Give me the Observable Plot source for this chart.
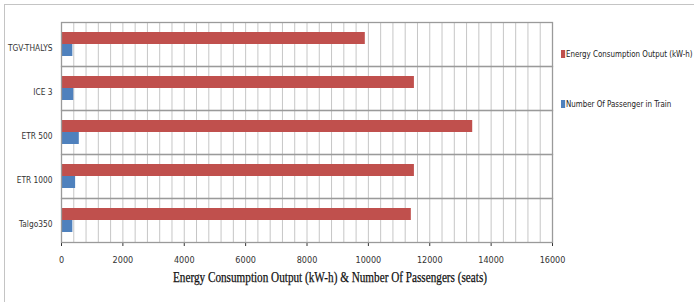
<!DOCTYPE html>
<html><head><meta charset="utf-8">
<script src="https://cdn.jsdelivr.net/npm/d3@7"></script>
<script src="https://cdn.jsdelivr.net/npm/@observablehq/plot@0.6"></script>
<style>
body{margin:0;background:#fff}
#wrap{position:relative;width:694px;height:302px;overflow:hidden;background:#fff}
#frame{position:absolute;left:4px;top:4px;width:720px;height:320px;border:1px solid #c4c4c4;box-sizing:border-box}
#chart{position:absolute;left:0;top:0}
#title{position:absolute;left:0;top:270px;width:660px;text-align:center;font-family:"Liberation Serif","Times New Roman",serif;font-size:14px;color:#111;white-space:nowrap;transform:scaleX(0.8);transform-origin:330px 0;font-weight:normal;-webkit-text-stroke:0.25px #111}
.leg{position:absolute;left:561px;font-family:"DejaVu Sans Condensed","Roboto",sans-serif;font-size:9.5px;color:#222;white-space:nowrap;transform:scaleX(0.83);transform-origin:0 0}
.leg i{display:inline-block;width:5px;height:8px;margin-right:1px;vertical-align:-1px}
</style></head>
<body>
<div id="wrap">
<div id="frame"></div>
<div id="chart"></div>
<div id="title"></div>
<div id="leg0" class="leg" style="top:48px"></div>
<div id="leg1" class="leg" style="top:98px"></div>
</div>
<script>
const trains = ["TGV-THALYS", "ICE 3", "ETR 500", "ETR 1000", "Talgo350"];
const energy = [9900, 11500, 13400, 11500, 11400];
const passengers = [370, 400, 580, 460, 370];
const seriesNames = ["Energy Consumption  Output (kW-h)", "Number Of Passenger in Train"];
const seriesColors = ["#c0504d", "#4f81bd"];
const xTicks = [0, 2000, 4000, 6000, 8000, 10000, 12000, 14000, 16000];
const gridStep = 400;
const xTitle = "Energy Consumption Output (kW-h) & Number Of Passengers (seats)";

const gridTicks = d3.range(0, 16000 + 1, gridStep);
const data = trains.flatMap((t, i) => [
  {train: t, series: seriesNames[0], value: energy[i]},
  {train: t, series: seriesNames[1], value: passengers[i]}
]);

const chart = Plot.plot({
  width: 694,
  height: 302,
  marginLeft: 61,
  marginRight: 142,
  marginTop: 20,
  marginBottom: 58,
  style: {fontFamily: '"DejaVu Sans Condensed",Roboto,sans-serif', fontSize: "9px", color: "#333", background: "transparent"},
  x: {domain: [0, 16000], ticks: xTicks, tickSize: 4, tickPadding: 10, label: null, tickFormat: d => String(d)},
  fy: {domain: trains, padding: 0, label: null, axis: "left", tickSize: 0, tickPadding: 9},
  y: {domain: seriesNames, axis: null, paddingInner: 0, paddingOuter: 0.72},
  color: {domain: seriesNames, range: seriesColors},
  marks: [
    Plot.ruleX(gridTicks, {stroke: "#c6c6c6", strokeWidth: 1}),
    Plot.barX(data, {x: "value", y: "series", fy: "train", fill: "series"}),
    Plot.frame({stroke: "#9a9a9a", strokeWidth: 1.3})
  ]
});
document.getElementById("chart").appendChild(chart);
d3.select(chart).selectAll('[aria-label="x-axis tick"]').attr("stroke", "#9a9a9a");
d3.select(chart).selectAll('[aria-label="fy-axis tick label"]').attr("font-size", "8.3px");
d3.select(chart).selectAll('[aria-label="fy-axis tick label"] text').attr("dy", "0.5em");

document.getElementById("title").textContent = xTitle;
seriesNames.forEach((s, i) => {
  const el = document.getElementById("leg" + i);
  el.innerHTML = `<i style="background:${seriesColors[i]}"></i>`;
  el.appendChild(document.createTextNode(s));
});
</script>
</body></html>
